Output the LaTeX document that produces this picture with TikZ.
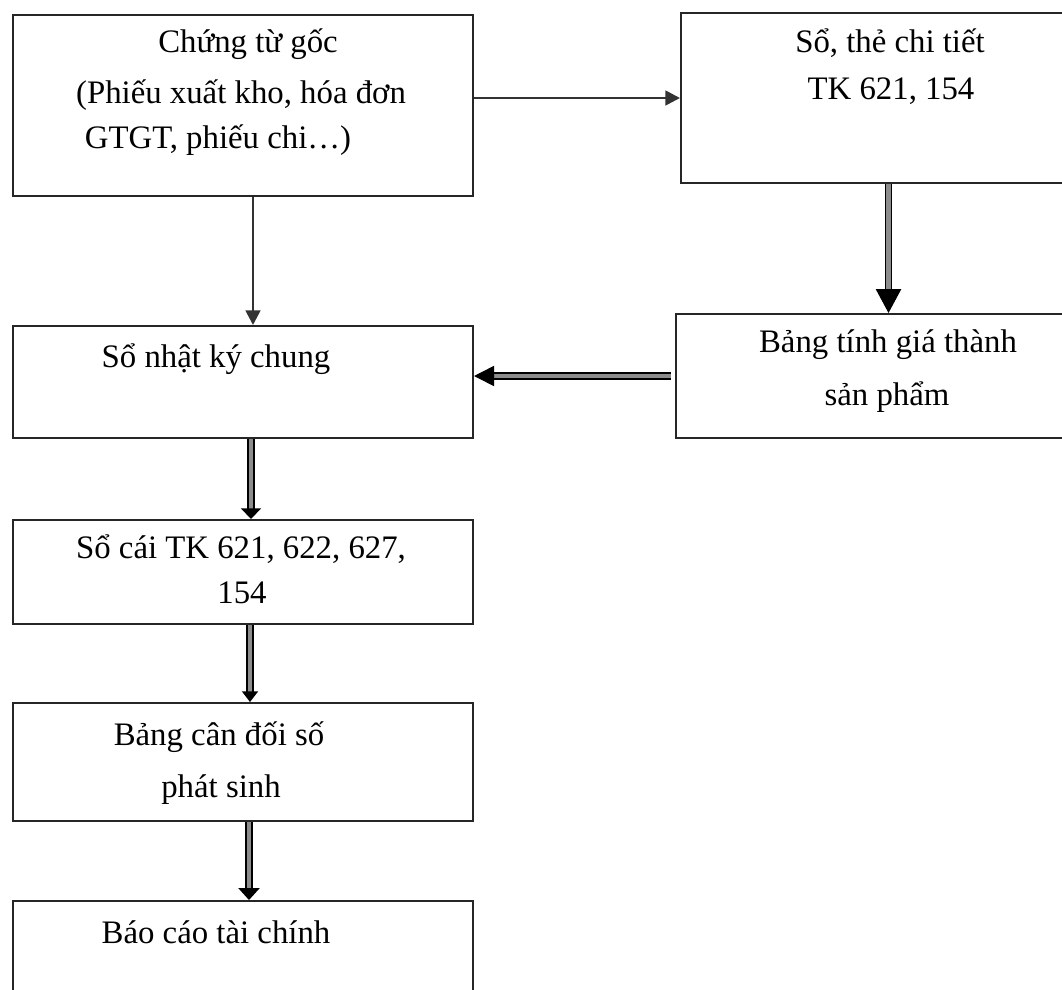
\documentclass[tikz,border=0pt]{standalone}
\usepackage{fontspec}
\setmainfont{Liberation Serif}
\usetikzlibrary{arrows.meta}

\tikzset{
  box/.style={draw=black!85, line width=1.5pt, rectangle, inner sep=0pt, anchor=north west},
  txt/.style={anchor=base, inner sep=0pt, font=\fontsize{24.6pt}{30pt}\selectfont},
  single/.style={draw=black!80, line width=2pt},
  dbl/.style={draw=black, line width=1.2pt, double=black!45, double distance=3pt},
}

\begin{document}
\begin{tikzpicture}[x=0.75pt, y=-0.75pt]
  \clip (0,0) rectangle (1062,989);
  \fill[white] (0,0) rectangle (1062,989);

  % boxes
  \node[box, minimum width=345pt, minimum height=135.75pt] (b1) at (12,14) {};
  \node[box, minimum width=311.25pt, minimum height=127.5pt] (b2) at (680,12) {};
  \node[box, minimum width=345pt, minimum height=84pt] (b3) at (12,325) {};
  \node[box, minimum width=315pt, minimum height=93pt] (b4) at (675,313) {};
  \node[box, minimum width=345pt, minimum height=78pt] (b5) at (12,519) {};
  \node[box, minimum width=345pt, minimum height=88.5pt] (b6) at (12,702) {};
  \node[box, minimum width=345pt, minimum height=90pt] (b7) at (12,900) {};

  % texts
  \node[txt] (t1a) at (248,52) {Chứng từ gốc};
  \node[txt] (t1b) at (241,103) {(Phiếu xuất kho, hóa đơn};
  \node[txt] (t1c) at (218,148) {GTGT, phiếu chi…)};
  \node[txt] (t2a) at (890,52) {Sổ, thẻ chi tiết};
  \node[txt] (t2b) at (891,99) {TK 621, 154};
  \node[txt] (t3a) at (216,367) {Sổ nhật ký chung};
  \node[txt] (t4a) at (888,352) {Bảng tính giá thành};
  \node[txt] (t4b) at (887,405) {sản phẩm};
  \node[txt] (t5a) at (241,558) {Sổ cái TK 621, 622, 627,};
  \node[txt] (t5b) at (242,603) {154};
  \node[txt] (t6a) at (219,745) {Bảng cân đối số};
  \node[txt] (t6b) at (221,797) {phát sinh};
  \node[txt] (t7a) at (216,943) {Báo cáo tài chính};

  % connectors
  \draw[single, -{Triangle[length=11pt,width=11pt]}] (b1.east |- b2.west) -- (b2.west);
  \draw[single, -{Triangle[length=11pt,width=11pt]}] ([xshift=7.5pt]b1.south) -- ([xshift=7.5pt]b3.north);
  \draw[dbl, double distance=3.4pt, -{Triangle[length=18pt,width=19pt]}] (b2.south) -- (b2.south |- b4.north);
  \draw[dbl, shorten <=3pt, -{Triangle[length=15pt,width=15pt]}] (b4.west) -- (b4.west -| b3.east);
  \draw[dbl, -{Triangle[length=8pt,width=15pt]}] ([xshift=6pt]b3.south) -- ([xshift=6pt]b5.north);
  \draw[dbl, -{Triangle[length=8pt,width=12pt]}] ([xshift=5.25pt]b5.south) -- ([xshift=5.25pt]b6.north);
  \draw[dbl, -{Triangle[length=9pt,width=16pt]}] ([xshift=4.5pt]b6.south) -- ([xshift=4.5pt]b7.north);
\end{tikzpicture}
\end{document}
